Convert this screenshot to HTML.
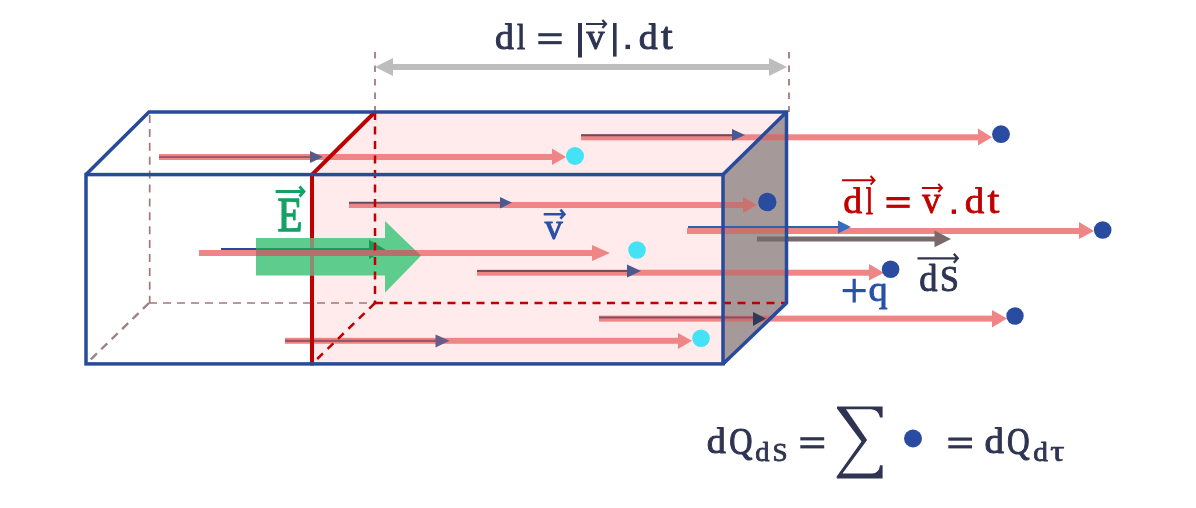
<!DOCTYPE html>
<html><head><meta charset="utf-8">
<style>
html,body{margin:0;padding:0;background:#fff;}
body{width:1196px;height:508px;overflow:hidden;}
svg{display:block;}
text{font-family:"Liberation Serif",serif;}
</style></head>
<body>
<svg width="1196" height="508" viewBox="0 0 1196 508">
<defs>
<clipPath id="faceclip"><polygon points="723,174 787,112 787,303 723,364"/></clipPath>
<clipPath id="gclip"><polygon points="256,238 385,238 385,221 421,255.7 385,292.8 385,275.5 256,275.5"/></clipPath>
</defs>
<rect width="1196" height="508" fill="#fff"/>

<!-- pink volume -->
<polygon points="312,364 312,174 375,112 787,112 723,174 723,364" fill="#ffebeb"/>

<!-- back dashed edges (left, brownish) -->
<g stroke="#a27878" stroke-width="1.7" fill="none">
<line x1="149.7" y1="112" x2="149.7" y2="303" stroke-dasharray="8 5.9" stroke-dashoffset="-3"/>
<line x1="149" y1="303" x2="375" y2="303" stroke-dasharray="8 6"/>
<line x1="149" y1="303" x2="86" y2="364" stroke-dasharray="8.5 6" stroke="#9c8282" stroke-width="2.4"/>
</g>
<!-- dimension extension lines -->
<g stroke="#9a6a6a" stroke-width="1.6" fill="none" stroke-dasharray="6.5 7">
<line x1="375" y1="52" x2="375" y2="112"/>
<line x1="789" y1="52" x2="789" y2="112"/>
</g>

<!-- dimension arrow -->
<line x1="390" y1="67" x2="772" y2="67" stroke="#bdbdbd" stroke-width="6"/>
<polygon points="375,67 393,58 393,76" fill="#bdbdbd"/>
<polygon points="787,67 769,58 769,76" fill="#bdbdbd"/>

<!-- gray right face -->
<polygon points="723,174 787,112 787,303 723,364" fill="#a69999"/>

<!-- pink arrows -->
<g fill="#f08585" stroke="none">
<rect x="159" y="154" width="396" height="6"/><polygon points="552,148.5 566,157 552,165"/>
<rect x="581" y="134.3" width="400" height="6"/><polygon points="978,128.5 992,137.3 978,145.5"/>
<rect x="349" y="202" width="396" height="6"/><polygon points="743,197 757,205 743,213"/>
<rect x="687" y="228" width="394" height="6"/><polygon points="1079,222 1094,231 1079,239"/>
<rect x="199" y="250" width="396" height="6"/><polygon points="592,245 610,253 592,261"/>
<rect x="477" y="269.7" width="395" height="6"/><polygon points="869,264 884,272.7 869,280.5"/>
<rect x="599" y="315.6" width="395" height="6"/><polygon points="992,310 1007,318.6 992,327.5"/>
<rect x="285" y="337.8" width="395" height="6"/><polygon points="678,333 692,340.8 678,349"/>
</g>
<!-- pink segments seen over the gray face -->
<g clip-path="url(#faceclip)" fill="#c87272">
<rect x="581" y="134.3" width="400" height="6"/>
<rect x="349" y="202" width="396" height="6"/><polygon points="743,197 757,205 743,213"/>
<rect x="687" y="228" width="394" height="6"/>
<rect x="477" y="269.7" width="395" height="6"/>
<rect x="599" y="315.6" width="395" height="6"/>
</g>

<!-- dark overlay arrows -->
<g>
<line x1="159" y1="157" x2="312" y2="157" stroke="#9a5c66" stroke-width="2.2"/>
<polygon points="310,151 323,157 310,163" fill="#5a5a88"/>
<line x1="581" y1="135.2" x2="734" y2="135.2" stroke="#6a4a66" stroke-width="2"/>
<polygon points="732,129 745,135 732,141" fill="#4a5a90"/>
<line x1="349" y1="202.8" x2="502" y2="202.8" stroke="#6a4a66" stroke-width="2"/>
<polygon points="500,197 512,202.6 500,208.4" fill="#4a5a90"/>
<line x1="688" y1="227" x2="840" y2="227" stroke="#3060b0" stroke-width="2"/>
<polygon points="838,220.5 851,227 838,233.5" fill="#3a6ac0"/>
<line x1="221" y1="249" x2="256" y2="249" stroke="#2848a0" stroke-width="2"/>
<line x1="477" y1="271" x2="630" y2="271" stroke="#7a4a5a" stroke-width="2"/>
<polygon points="627,264.5 641,271 627,277.5" fill="#4a5a90"/>
<line x1="599" y1="317.5" x2="756" y2="317.5" stroke="#8a5060" stroke-width="2.2"/>
<polygon points="753,312 766,318.5 753,326" fill="#2e3a5a"/>
<line x1="285" y1="340.8" x2="438" y2="340.8" stroke="#965a64" stroke-width="2.2"/>
<polygon points="435.5,334.5 449.5,340.8 435.5,347.5" fill="#6a5a88"/>
</g>

<!-- dS arrow -->
<rect x="757" y="236.5" width="180" height="5" fill="#786a6c"/>
<polygon points="934.5,230.6 951,239 934.5,247.2" fill="#786a6c"/>

<!-- red dashed back edges -->
<g stroke="#c00000" stroke-width="2.5" fill="none" stroke-dasharray="8 6.5">
<line x1="375" y1="112" x2="375" y2="303"/>
<line x1="375" y1="303" x2="787" y2="303"/>
<line x1="375" y1="303" x2="312" y2="364"/>
</g>

<!-- red plane -->
<polyline points="312,365.5 312,174.6 375,112" stroke="#c00000" stroke-width="4" fill="none" stroke-linejoin="round"/>
<!-- blue box outline -->
<g stroke="#284a9c" stroke-width="3.5" fill="none" stroke-linejoin="miter">
<rect x="86" y="174.6" width="637" height="189.3"/>
<polyline points="86,174.6 149,112 786.5,112 786.5,303 723,363.9"/>
<line x1="786.5" y1="112" x2="723" y2="174.6"/>
</g>

<!-- green E arrow -->
<polygon points="256,238 385,238 385,221 421,255.7 385,292.8 385,275.5 256,275.5" fill="#5ecc8c"/>
<g clip-path="url(#gclip)">
<line x1="312" y1="174" x2="312" y2="366" stroke="#8c8c74" stroke-width="4" />
<line x1="221" y1="249" x2="372" y2="249" stroke="#1a9a5a" stroke-width="2"/>
<polygon points="369,239.8 385.5,249.7 369,259" fill="#1a9a5a"/>
<rect x="199" y="250" width="396" height="6" fill="#b86e6a"/>
<line x1="375" y1="112" x2="375" y2="303" stroke="#c00000" stroke-width="2.5" stroke-dasharray="8 6.5"/>
</g>

<!-- dots -->
<g fill="#44e2f5">
<circle cx="575" cy="156" r="9"/>
<circle cx="637" cy="250" r="8.8"/>
<circle cx="701" cy="338.2" r="8.8"/>
</g>
<g fill="#2a4ca0">
<circle cx="1001" cy="134.2" r="8.9"/>
<circle cx="767.3" cy="202" r="9.2"/>
<circle cx="1102.7" cy="230" r="8.8"/>
<circle cx="890.6" cy="269.2" r="8.8"/>
<circle cx="1015" cy="316" r="8.7"/>
<circle cx="913" cy="438.5" r="9"/>
</g>

<!-- labels -->
<g style="will-change:transform">
<text transform="translate(494.93,48.65) scale(0.9465,0.9060)" font-size="40" fill="#2e3452" stroke="#2e3452" stroke-width="1.080" stroke-linejoin="round" style='font-family:"Liberation Serif", serif'>d</text>
<text transform="translate(516.91,49.00) scale(0.7359,0.9188)" font-size="40" fill="#2e3452" stroke="#2e3452" stroke-width="1.209" stroke-linejoin="round" style='font-family:"Liberation Serif", serif'>l</text>
<rect x="538.30" y="33.20" width="23.40" height="3.10" fill="#2e3452"/><rect x="538.30" y="41.10" width="23.40" height="3.10" fill="#2e3452"/>
<rect x="578.00" y="23.00" width="4.00" height="34.50" fill="#2e3452"/>
<text transform="translate(586.50,48.65) scale(0.9000,0.8907)" font-size="40" fill="#2e3452" stroke="#2e3452" stroke-width="1.117" stroke-linejoin="round" style='font-family:"Liberation Serif", serif'>v</text>
<path d="M586.0,24.0 L605.2,24.0 M602.4,20.0 L606.0,24.0 L602.4,28.0" stroke="#2e3452" stroke-width="2.2" fill="none" stroke-linecap="butt" stroke-linejoin="miter"/>
<rect x="613.00" y="23.00" width="3.60" height="33.60" fill="#2e3452"/>
<rect x="625.50" y="44.70" width="4.50" height="4.40" fill="#2e3452"/>
<text transform="translate(638.83,48.65) scale(0.9465,0.9060)" font-size="40" fill="#2e3452" stroke="#2e3452" stroke-width="1.080" stroke-linejoin="round" style='font-family:"Liberation Serif", serif'>d</text>
<text transform="translate(661.09,48.63) scale(1.0488,0.9384)" font-size="40" fill="#2e3452" stroke="#2e3452" stroke-width="1.006" stroke-linejoin="round" style='font-family:"Liberation Serif", serif'>t</text>
<text transform="translate(277.48,231.35) scale(1.0193,1.1912)" font-size="40" fill="#16a064" stroke="#16a064" stroke-width="1.176" stroke-linejoin="round" style='font-family:"Liberation Serif", serif'>E</text>
<path d="M275.6,191.5 L303.2,191.5 M299.5,186.5 L304.0,191.5 L299.5,196.5" stroke="#16a064" stroke-width="2.8" fill="none" stroke-linecap="butt" stroke-linejoin="miter"/>
<text transform="translate(544.80,238.75) scale(0.8950,0.8907)" font-size="40" fill="#2a50a8" stroke="#2a50a8" stroke-width="1.120" stroke-linejoin="round" style='font-family:"Liberation Serif", serif'>v</text>
<path d="M543.7,214.2 L563.6,214.2 M560.4,209.7 L564.4,214.2 L560.4,218.7" stroke="#2a50a8" stroke-width="2.6" fill="none" stroke-linecap="butt" stroke-linejoin="miter"/>
<text transform="translate(843.23,213.14) scale(0.9465,0.9167)" font-size="40" fill="#c00000" stroke="#c00000" stroke-width="0.859" stroke-linejoin="round" style='font-family:"Liberation Serif", serif'>d</text>
<text transform="translate(865.78,213.50) scale(0.6518,0.9296)" font-size="40" fill="#c00000" stroke="#c00000" stroke-width="1.012" stroke-linejoin="round" style='font-family:"Liberation Serif", serif'>l</text>
<path d="M842.0,180.3 L873.7,180.3 M870.6,176.0 L874.5,180.3 L870.6,184.6" stroke="#c00000" stroke-width="2.0" fill="none" stroke-linecap="butt" stroke-linejoin="miter"/>
<rect x="886.40" y="197.00" width="23.30" height="3.30" fill="#c00000"/><rect x="886.40" y="204.70" width="23.30" height="3.20" fill="#c00000"/>
<text transform="translate(922.30,213.13) scale(0.9100,0.9387)" font-size="40" fill="#c00000" stroke="#c00000" stroke-width="0.865" stroke-linejoin="round" style='font-family:"Liberation Serif", serif'>v</text>
<path d="M921.9,187.9 L941.2,187.9 M938.3,183.8 L942.0,187.9 L938.3,192.0" stroke="#c00000" stroke-width="2.0" fill="none" stroke-linecap="butt" stroke-linejoin="miter"/>
<rect x="951.70" y="209.50" width="4.30" height="4.40" fill="#c00000"/>
<text transform="translate(964.79,213.14) scale(0.9742,0.9167)" font-size="40" fill="#c00000" stroke="#c00000" stroke-width="0.846" stroke-linejoin="round" style='font-family:"Liberation Serif", serif'>d</text>
<text transform="translate(987.38,213.12) scale(1.0679,0.9603)" font-size="40" fill="#c00000" stroke="#c00000" stroke-width="0.789" stroke-linejoin="round" style='font-family:"Liberation Serif", serif'>t</text>
<rect x="842.70" y="289.00" width="23.00" height="3.20" fill="#2a50a8"/>
<rect x="852.60" y="278.80" width="3.20" height="23.70" fill="#2a50a8"/>
<text transform="translate(868.56,301.47) scale(0.9589,0.8900)" font-size="40" fill="#2a50a8" stroke="#2a50a8" stroke-width="0.974" stroke-linejoin="round" style='font-family:"Liberation Serif", serif'>q</text>
<text transform="translate(919.13,290.79) scale(0.9133,0.9238)" font-size="40" fill="#2e3452" stroke="#2e3452" stroke-width="0.980" stroke-linejoin="round" style='font-family:"Liberation Serif", serif'>d</text>
<text transform="translate(939.98,290.79) scale(0.8485,0.9191)" font-size="40" fill="#2e3452" stroke="#2e3452" stroke-width="1.018" stroke-linejoin="round" style='font-family:"Liberation Serif", serif'>S</text>
<path d="M917.5,258.3 L957.0,258.3 M953.8,253.8 L957.8,258.3 L953.8,262.8" stroke="#2e3452" stroke-width="2.2" fill="none" stroke-linecap="butt" stroke-linejoin="miter"/>
<text transform="translate(706.82,452.84) scale(0.9576,0.9096)" font-size="40" fill="#2e3452" stroke="#2e3452" stroke-width="1.071" stroke-linejoin="round" style='font-family:"Liberation Serif", serif'>d</text>
<text transform="translate(729.28,453.99) scale(0.8056,0.9736)" font-size="40" fill="#2e3452" stroke="#2e3452" stroke-width="1.124" stroke-linejoin="round" style='font-family:"Liberation Serif", serif'>Q</text>
<text transform="translate(755.37,460.74) scale(0.7140,0.6644)" font-size="40" fill="#2e3452" stroke="#2e3452" stroke-width="1.161" stroke-linejoin="round" style='font-family:"Liberation Serif", serif'>d</text>
<text transform="translate(772.38,460.75) scale(0.6788,0.6326)" font-size="40" fill="#2e3452" stroke="#2e3452" stroke-width="1.220" stroke-linejoin="round" style='font-family:"Liberation Serif", serif'>S</text>
<rect x="800.30" y="437.20" width="23.90" height="3.20" fill="#2e3452"/><rect x="800.30" y="445.20" width="23.90" height="3.20" fill="#2e3452"/>
<path d="M837,406.4 L882.6,406.4 L882.6,417.5 L880,417.5 Q878.5,409.5 871,409.2 L846,409.2 L867.1,440.1 L842.5,473.5 L872,473.5 Q879,473.5 880,465.2 L882.6,465.2 L882.6,478.6 L836.7,478.6 L836.7,476.5 L861.5,441.5 L837,408.5 Z" fill="#2e3452"/>
<rect x="948.30" y="437.50" width="23.70" height="3.20" fill="#2e3452"/><rect x="948.30" y="445.20" width="23.70" height="3.20" fill="#2e3452"/>
<text transform="translate(984.49,453.24) scale(0.9742,0.9167)" font-size="40" fill="#2e3452" stroke="#2e3452" stroke-width="1.058" stroke-linejoin="round" style='font-family:"Liberation Serif", serif'>d</text>
<text transform="translate(1007.02,453.80) scale(0.7831,0.9555)" font-size="40" fill="#2e3452" stroke="#2e3452" stroke-width="1.150" stroke-linejoin="round" style='font-family:"Liberation Serif", serif'>Q</text>
<text transform="translate(1033.34,461.14) scale(0.7362,0.6751)" font-size="40" fill="#2e3452" stroke="#2e3452" stroke-width="1.134" stroke-linejoin="round" style='font-family:"Liberation Serif", serif'>d</text>
<text transform="translate(1050.33,461.12) scale(0.8801,0.7093)" font-size="40" fill="#2e3452" stroke="#2e3452" stroke-width="1.007" stroke-linejoin="round" style='font-family:"Liberation Serif", serif'>τ</text>
</g>
</svg>
</body></html>
